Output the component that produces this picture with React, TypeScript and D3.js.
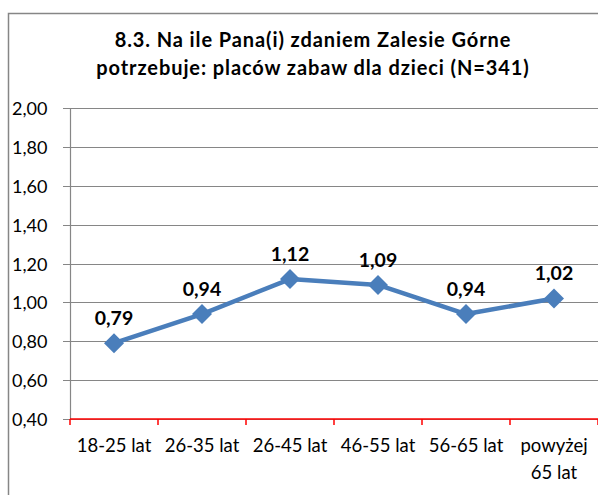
import React from "react";
import * as d3 from "d3";

const categories = ["18-25 lat", "26-35 lat", "26-45 lat", "46-55 lat", "56-65 lat", "powyżej\n65 lat"];
const values = [0.79, 0.94, 1.12, 1.09, 0.94, 1.02];
const yTicks = [0.4, 0.6, 0.8, 1.0, 1.2, 1.4, 1.6, 1.8, 2.0];
const titleLines = ["8.3. Na ile Pana(i) zdaniem Zalesie Górne", "potrzebuje: placów zabaw dla dzieci (N=341)"];

const W = 598;
const H = 495;
const margin = { top: 108, right: 0, bottom: 76, left: 70 };
const font = "Lato, 'Open Sans', sans-serif";
const blue = "#4A7EBB";

const fmt = (v: number) => v.toFixed(2).replace(".", ",");

export default function App() {
  const x = d3
    .scaleBand<string>()
    .domain(categories)
    .range([margin.left, W - margin.right]);
  const y = d3
    .scaleLinear()
    .domain([0.4, 2.0])
    .range([H - margin.bottom, margin.top]);

  const cx = (i: number) => (x(categories[i]) as number) + x.bandwidth() / 2;

  const line = d3
    .line<number>()
    .x((_, i) => cx(i))
    .y((d) => y(d));

  const baseY = y(0.4);
  const tickXs = categories.map((c) => x(c) as number).concat([W - margin.right]);

  return (
    <svg
      width={W}
      height={H}
      style={{ position: "absolute", left: 0, top: 0, background: "#fff" }}
    >
      <rect x={8.5} y={13.5} width={W} height={H} fill="#fff" stroke="#868686" strokeWidth={1.5} />
      {titleLines.map((t, i) => (
        <text
          key={i}
          x={313}
          y={47 + i * 28}
          textAnchor="middle"
          fontFamily={font}
          fontWeight="bold"
          fontSize={20}
          letterSpacing={0.9}
          fill="#000"
        >
          {t}
        </text>
      ))}
      {yTicks.map((t) => (
        <g key={t}>
          <line
            x1={margin.left - 7}
            x2={W}
            y1={Math.round(y(t)) + 0.5}
            y2={Math.round(y(t)) + 0.5}
            stroke="#868686"
            strokeWidth={1}
          />
          <text
            x={12}
            y={y(t) + 7}
            fontFamily={font}
            fontSize={18}
            fill="#000"
          >
            {fmt(t)}
          </text>
        </g>
      ))}
      <line
        x1={margin.left + 0.5}
        x2={margin.left + 0.5}
        y1={y(2.0)}
        y2={baseY}
        stroke="#868686"
        strokeWidth={1.2}
      />
      <line x1={margin.left} x2={W} y1={baseY} y2={baseY} stroke="#FF0000" strokeWidth={1.5} />
      {tickXs.map((tx, i) => (
        <line key={i} x1={tx} x2={tx} y1={baseY} y2={baseY + 6} stroke="#FF0000" strokeWidth={1.5} />
      ))}
      {categories.map((c, i) =>
        c.split("\n").map((part, j) => (
          <text
            key={c + j}
            x={cx(i)}
            y={baseY + 33 + j * 27}
            textAnchor="middle"
            fontFamily={font}
            fontSize={18.5}
            fill="#000"
          >
            {part}
          </text>
        ))
      )}
      <path d={line(values) || ""} fill="none" stroke={blue} strokeWidth={4.5} strokeLinejoin="round" />
      {values.map((v, i) => {
        const px = cx(i);
        const py = y(v);
        const s = 10;
        return (
          <g key={i}>
            <path
              d={`M${px},${py - s}L${px + s},${py}L${px},${py + s}L${px - s},${py}Z`}
              fill={blue}
            />
            <text
              x={px}
              y={py - 18}
              textAnchor="middle"
              fontFamily={font}
              fontWeight="bold"
              fontSize={19.5}
              fill="#000"
            >
              {fmt(v)}
            </text>
          </g>
        );
      })}
    </svg>
  );
}
